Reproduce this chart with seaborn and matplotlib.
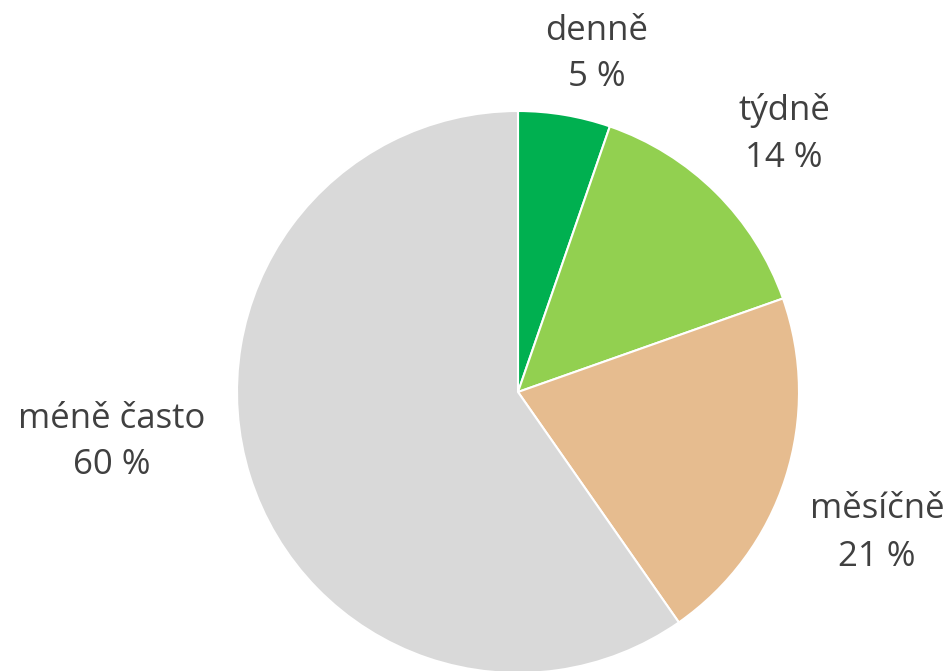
import matplotlib
matplotlib.use("Agg")
import matplotlib.pyplot as plt
import seaborn as sns

# data
kategorie = ["denně", "týdně", "měsíčně", "méně často"]
podily = [5.3, 14.3, 20.7, 59.7]
barvy = ["#00B050", "#92D050", "#E6BC8F", "#D9D9D9"]

# label anchor positions in pixels (x, y from top)
pozice_popisku = [(597, 54), (784, 134), (877, 533), (112, 442)]

sns.set_theme(style="white")
plt.rcParams["font.family"] = ["Open Sans", "DejaVu Sans"]

W, H = 952, 671
fig = plt.figure(figsize=(W / 100, H / 100), dpi=100)
ax = fig.add_axes([0, 0, 1, 1])
ax.set_xlim(0, W)
ax.set_ylim(0, H)
ax.set_aspect("equal")
ax.axis("off")

ax.pie(podily, colors=barvy, startangle=90, counterclock=False,
       center=(518, H - 392), radius=281,
       wedgeprops=dict(edgecolor="white", linewidth=1.5))

for nazev, hodnota, (x, y) in zip(kategorie, podily, pozice_popisku):
    ax.text(x, H - y, f"{nazev}\n{hodnota:.0f} %", ha="center", va="center",
            fontsize=25, color="#404040", linespacing=1.5)

ax.set_xlim(0, W)
ax.set_ylim(0, H)
fig.savefig("out.png", dpi=100)
